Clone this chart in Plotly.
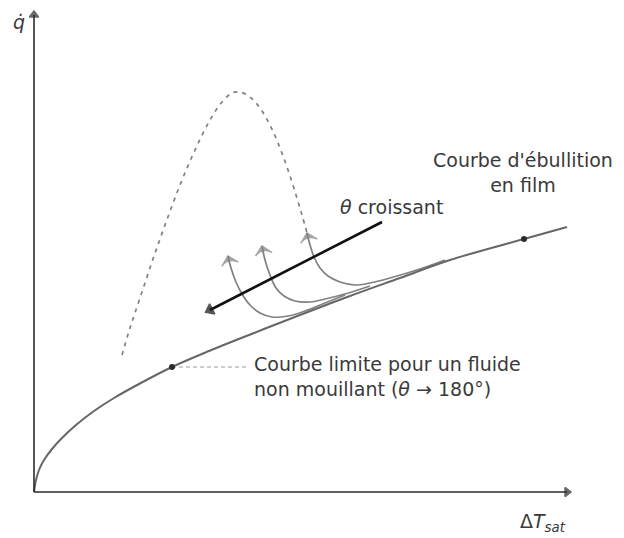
import plotly.graph_objects as go

# Boiling curve sketch: heat flux q versus wall superheat ΔT_sat (arbitrary units)

# Limit curve for a non-wetting fluid, continuing into film boiling
limit_dT = [0, 2, 5, 10, 18, 28, 42, 60, 80, 105, 138, 175, 220, 266, 316, 366, 416, 490, 533]
limit_q = [0, 12, 22, 32, 43, 54, 67, 81, 94, 108, 125, 141, 159, 177, 196, 214, 232, 253, 265]

# Marked points on the limit curve
marked_dT = [138, 490]
marked_q = [125, 253]

# Classical boiling curve (dashed), peaking at the critical heat flux
boil_dT = [88, 96, 106, 118, 131, 146, 161, 176, 188, 198, 206, 216, 226, 236, 246, 254, 262, 268, 273]
boil_q = [137, 164, 194, 230, 267, 307, 342, 372, 390, 399, 400, 395, 384, 367, 344, 322, 297, 277, 259]

# Transition branches for increasing contact angle, from the film-boiling side up to the tip
branch1_dT = [311, 291, 271, 254, 238, 226, 216, 208, 202, 197, 194]
branch1_q = [197, 189, 181, 176, 175, 179, 187, 198, 210, 224, 236]
branch2_dT = [336, 311, 291, 276, 261, 250, 242, 236, 231, 228]
branch2_q = [206, 198, 193, 190, 191, 196, 204, 217, 232, 246]
branch3_dT = [411, 386, 356, 336, 321, 306, 294, 286, 280, 276, 273]
branch3_q = [232, 223, 214, 209, 207, 210, 216, 224, 235, 247, 259]

# Direction of increasing contact angle θ (tip last)
theta_dT = [348, 176]
theta_q = [270, 182]

# Leader from the marked point to its label
leader_dT = [138, 213]
leader_q = [125, 125]

# Axis extents
yaxis_top = 477
xaxis_end = 533

ink = "#2b2b2b"
branch_col = "#808080"
font = dict(family="DejaVu Sans", size=19, color="#3a3a3a")


def arrow_sizes(n, tip):
    return [0] * (n - 1) + [tip]


def head(color, size, symbol):
    return dict(symbol=symbol, angleref="previous", color=color, size=size,
                line=dict(width=1.5, color=color))


fig = go.Figure()

fig.add_trace(go.Scatter(x=boil_dT, y=boil_q, mode="lines",
                         line=dict(color="#808080", width=1.7, dash="4px,5px", shape="spline")))
for bx, by in [(branch1_dT, branch1_q), (branch2_dT, branch2_q), (branch3_dT, branch3_q)]:
    fig.add_trace(go.Scatter(x=bx, y=by, mode="lines+markers",
                             line=dict(color=branch_col, width=1.7, shape="spline"),
                             marker=head(branch_col, arrow_sizes(len(bx), 12), "arrow-wide")))
fig.add_trace(go.Scatter(x=limit_dT, y=limit_q, mode="lines",
                         line=dict(color="#666666", width=2, shape="spline")))
fig.add_trace(go.Scatter(x=leader_dT, y=leader_q, mode="lines",
                         line=dict(color="#9a9a9a", width=1, dash="4px,3px")))
fig.add_trace(go.Scatter(x=marked_dT, y=marked_q, mode="markers", marker=dict(color=ink, size=6)))
fig.add_trace(go.Scatter(x=theta_dT, y=theta_q, mode="lines+markers",
                         line=dict(color="#111111", width=2.6),
                         marker=head("#111111", arrow_sizes(2, 10), "triangle-up")))

# Axes drawn as lines with arrowheads
fig.add_trace(go.Scatter(x=[0, 0], y=[0, yaxis_top], mode="lines+markers",
                         line=dict(color=ink, width=1.6),
                         marker=head(ink, arrow_sizes(2, 8), "triangle-up")))
fig.add_trace(go.Scatter(x=[0, xaxis_end], y=[0, 0], mode="lines+markers",
                         line=dict(color=ink, width=1.6),
                         marker=head(ink, arrow_sizes(2, 8), "triangle-up")))

labels = [
    (-15, 470, "<i>q̇</i>", "center"),
    (509, -30, "Δ<i>T</i><sub><i>sat</i></sub>", "center"),
    (304, 285, "<i>θ</i> croissant", "left"),
    (218, 116, "Courbe limite pour un fluide<br>non mouillant (<i>θ</i> → 180°)", "left"),
    (489, 320, "Courbe d'ébullition<br>en film", "center"),
]
for x, y, t, a in labels:
    fig.add_annotation(x=x, y=y, xref="x", yref="y", text=t, showarrow=False,
                       xanchor=a, yanchor="middle", align=a, font=font)

fig.update_layout(
    width=624, height=538,
    margin=dict(l=0, r=0, t=0, b=0),
    paper_bgcolor="white", plot_bgcolor="white",
    showlegend=False,
    xaxis=dict(range=[-34, 590], visible=False, fixedrange=True),
    yaxis=dict(range=[-46, 492], visible=False, fixedrange=True),
)

fig.write_html("out.html")
